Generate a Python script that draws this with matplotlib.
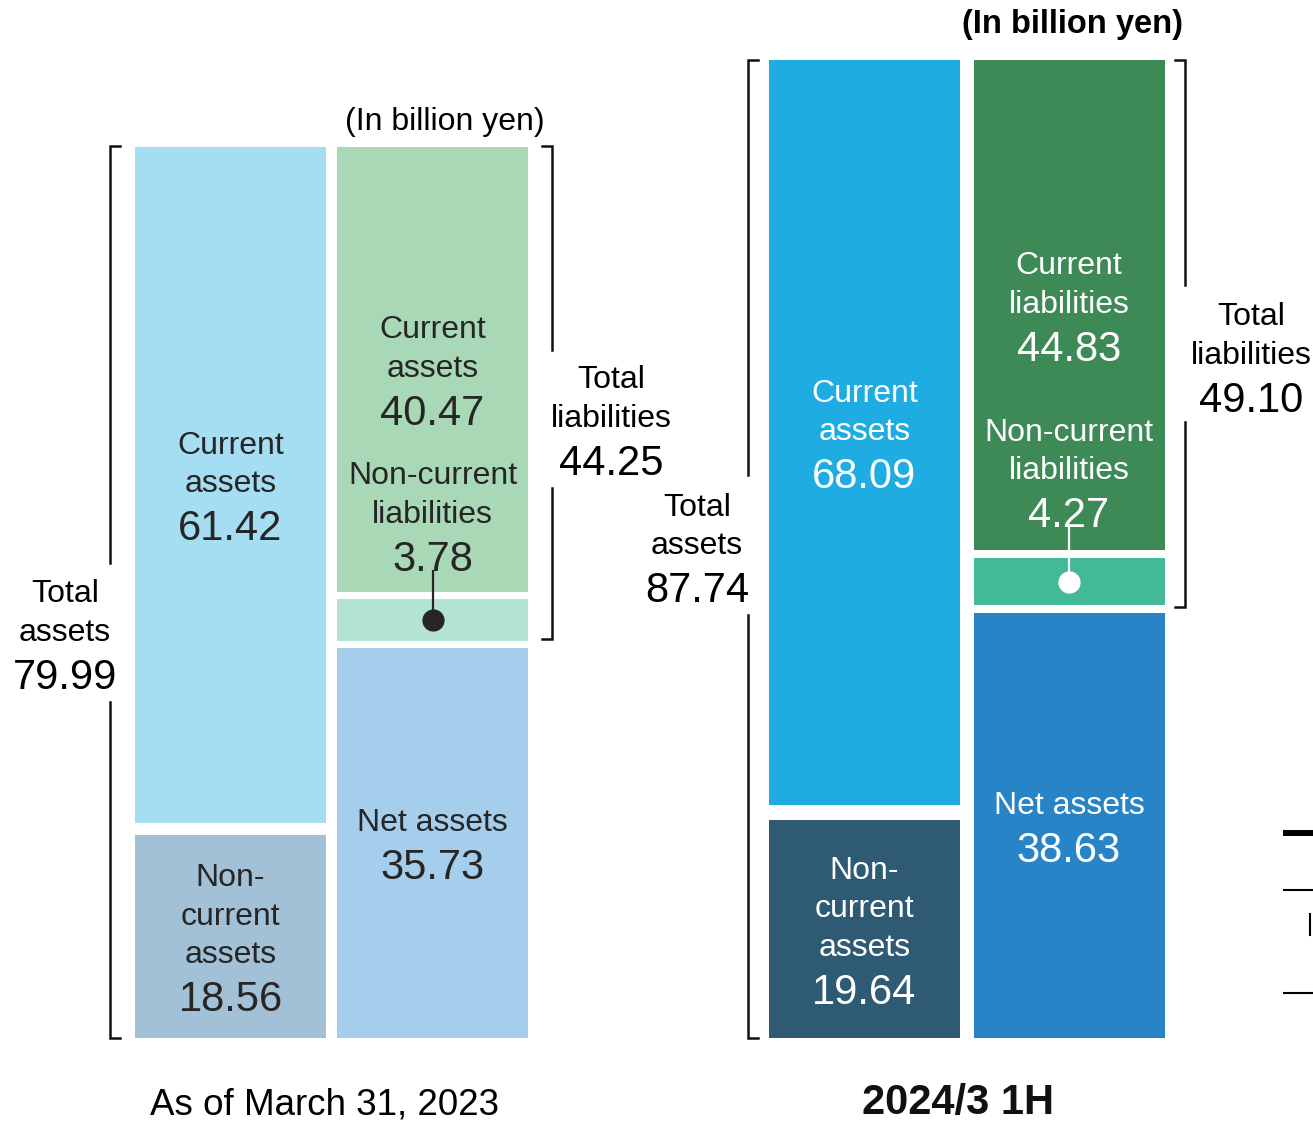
import matplotlib.pyplot as plt

plt.rcParams['font.family'] = ['Liberation Sans', 'DejaVu Sans']

# balance sheet, billion yen (stacks listed bottom to top)
prev_assets = [18.56, 61.42]          # non-current, current
prev_liab = [35.73, 3.78, 40.47]      # net assets, non-current liab, current liab
prev_total_assets = 79.99
prev_total_liab = 44.25

cur_assets = [19.64, 68.09]
cur_liab = [38.63, 4.27, 44.83]
cur_total_assets = 87.74
cur_total_liab = 49.10

titles = ['As of March 31, 2023', '2024/3 1H']
unit_label = '(In billion yen)'

prev_colors_a = ['#A2C1D6', '#A5DDF2']
prev_colors_l = ['#A5CDEC', '#B3E3D3', '#A9D8B6']
cur_colors_a = ['#2F5A73', '#1EACE2']
cur_colors_l = ['#2684C7', '#43BA97', '#3D8A56']

W, H = 1313, 1121
BASE = 1037.5   # pixel row of zero, from the top
SCALE = 11.14   # pixels per billion yen
BAR_W = 191
TEXT_DY = -3    # nudge all text down a little (pixels)
DARK = '#262626'

fig = plt.figure(figsize=(W / 100, H / 100), dpi=100)
ax = fig.add_axes([0, 0, 1, 1])
ax.set_xlim(0, W)
ax.set_ylim(-(H - BASE) / SCALE, BASE / SCALE)
ax.axis('off')


def pt(n):
    # pixel offset to points
    return n * 0.72


def row(y):
    # pixel row (from top) to data value
    return (BASE - y) / SCALE


def say(x, y, s, dy=0, **kw):
    ax.annotate(s, (x, y), xytext=(0, pt(dy + TEXT_DY)),
                textcoords='offset points', ha='center', va='center', **kw)


def stack(x, values, colors, gaps):
    # gaps: (size, shift) in pixels for each boundary between segments;
    # a positive shift moves the gap downwards
    bottom = 0
    segs = []
    n = len(values)
    for i, (v, c) in enumerate(zip(values, colors)):
        lo, hi = bottom, bottom + v
        if i > 0:
            g, s = gaps[i - 1]
            lo += (g / 2 - s) / SCALE
        if i < n - 1:
            g, s = gaps[i]
            hi -= (g / 2 + s) / SCALE
        ax.bar(x, hi - lo, bottom=lo, width=BAR_W, color=c, linewidth=0)
        segs.append((lo, hi))
        bottom += v
    return segs


def block(x, y, lines, number, color):
    # number centred on y, name lines stacked above it
    say(x, y, number, fontsize=30, color=color)
    for i, line in enumerate(reversed(lines)):
        say(x, y, line, dy=45 + 38.5 * i, fontsize=23, color=color)


def seg_label(x, seg, lines, number, color):
    half = ((len(lines) - 1) * 38.5 + 45) / 2
    mid = (seg[0] + seg[1]) / 2
    block(x, mid - half / SCALE, lines, number, color)


def callout(x, seg, lines, number, color, lift):
    mid = (seg[0] + seg[1]) / 2
    ny = seg[1] + lift / SCALE
    block(x, ny, lines, number, color)
    ax.plot([x, x], [mid, ny - 14 / SCALE], color=color, lw=1.6)
    ax.plot(x, mid, 'o', ms=16, color=color, mec='none')


def bracket(x, lo, hi, gap, side):
    t = 10 * side
    kw = dict(color='#111111', lw=1.8, solid_joinstyle='miter')
    ax.plot([x + t, x, x], [hi, hi, gap[0]], **kw)
    ax.plot([x, x, x + t], [gap[1], lo, lo], **kw)


# left: March 31, 2023
sa = stack(230.5, prev_assets, prev_colors_a, [(12, -2)])
sl = stack(432.5, prev_liab, prev_colors_l, [(7, 5), (7, -2)])
seg_label(230.5, sa[1], ['Current', 'assets'], f'{prev_assets[1]:.2f}', DARK)
seg_label(230.5, sa[0], ['Non-', 'current', 'assets'], f'{prev_assets[0]:.2f}', DARK)
seg_label(432.5, sl[2], ['Current', 'assets'], f'{prev_liab[2]:.2f}', DARK)
seg_label(432.5, sl[0], ['Net assets'], f'{prev_liab[0]:.2f}', DARK)
callout(432.5, sl[1], ['Non-current', 'liabilities'], f'{prev_liab[1]:.2f}', DARK, 42)

bracket(110, 0, prev_total_assets, (row(563), row(702)), 1)
bracket(552, prev_total_assets - prev_total_liab, prev_total_assets,
        (row(350), row(488)), -1)
block(65, row(675), ['Total', 'assets'], f'{prev_total_assets:.2f}', 'black')
block(611, row(461), ['Total', 'liabilities'], f'{prev_total_liab:.2f}', 'black')

say(445, row(119), unit_label, fontsize=23, color='black')
say(325, row(1102), titles[0], fontsize=26.5, color='black')

# right: 2024/3 1H
ra = stack(864.5, cur_assets, cur_colors_a, [(15, -6)])
rl = stack(1069, cur_liab, cur_colors_l, [(8, 2), (8, -5.5)])
seg_label(864.5, ra[1], ['Current', 'assets'], f'{cur_assets[1]:.2f}', 'white')
seg_label(864.5, ra[0], ['Non-', 'current', 'assets'], f'{cur_assets[0]:.2f}', 'white')
seg_label(1069, rl[2], ['Current', 'liabilities'], f'{cur_liab[2]:.2f}', 'white')
seg_label(1069, rl[0], ['Net assets'], f'{cur_liab[0]:.2f}', 'white')
callout(1069, rl[1], ['Non-current', 'liabilities'], f'{cur_liab[1]:.2f}', 'white', 45)

bracket(748, 0, cur_total_assets, (row(475), row(615)), 1)
bracket(1185, cur_total_assets - cur_total_liab, cur_total_assets,
        (row(285), row(422)), -1)
block(697, row(588), ['Total', 'assets'], f'{cur_total_assets:.2f}', 'black')
block(1251, row(398), ['Total', 'liabilities'], f'{cur_total_liab:.2f}', 'black')

say(1072, row(22), unit_label, fontsize=23.5, fontweight='bold', color='black')
say(958, row(1100), titles[1], fontsize=30, fontweight='bold', color='#111111')

# clipped legend pieces at the right edge
for y, lw in [(833, 4.3), (890, 1.5), (993, 1.5)]:
    ax.plot([1283, W], [row(y), row(y)], color='black', lw=lw,
            solid_capstyle='butt')
ax.plot([1310, 1310], [row(914), row(935)], color='black', lw=1.5)

fig.savefig('out.png', dpi=100)
